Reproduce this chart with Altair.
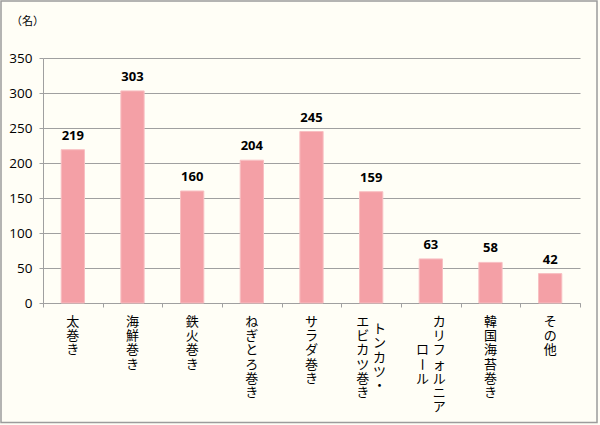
import altair as alt
import pandas as pd

categories = ["太巻き", "海鮮巻き", "鉄火巻き", "ねぎとろ巻き", "サラダ巻き",
              "トンカツ・エビカツ巻き", "カリフォルニアロール", "韓国海苔巻き", "その他"]
label_lines = [["太巻き"], ["海鮮巻き"], ["鉄火巻き"], ["ねぎとろ巻き"], ["サラダ巻き"],
               ["トンカツ・", "エビカツ巻き"], ["カリフォルニア", "ロール"], ["韓国海苔巻き"], ["その他"]]
values = [219, 303, 160, 204, 245, 159, 63, 58, 42]
y_ticks = [0, 50, 100, 150, 200, 250, 300, 350]
unit_label = "（名）"

W, H = 537, 245
GRAY = "#A0A0A0"
JP = "Noto Sans CJK JP"
NUM = "Open Sans"

df = pd.DataFrame({"cat": categories, "value": values})

# one row per character of the vertical (tategaki) labels
rows = []
for i, lines in enumerate(label_lines):
    m = len(lines)
    longest = max(len(s) for s in lines)
    for j, line in enumerate(lines):
        off = (longest - len(line)) / 2
        col = (m - 1) / 2 - j  # first line is rightmost
        for k, ch in enumerate(line):
            rows.append({"idx": i, "col": col, "row": k + off, "ch": ch,
                         "angle": 90 if ch == "ー" else 0})
chars = pd.DataFrame(rows)

x_enc = alt.X("cat:N", sort=categories,
              scale=alt.Scale(paddingInner=0, paddingOuter=0),
              axis=alt.Axis(labels=False, title=None, tickBand="extent", tickSize=4,
                            domainColor=GRAY, tickColor=GRAY, grid=False))
y_enc = alt.Y("value:Q", scale=alt.Scale(domain=[0, 350], nice=False),
              axis=alt.Axis(values=y_ticks, title=unit_label, titleAngle=0,
                            titleX=-16, titleY=-37, titleAlign="center",
                            titleBaseline="middle", titleFont=JP, titleFontSize=11,
                            titleFontWeight="normal", titleColor="#000",
                            labelFont=NUM, labelFontSize=13.5, labelColor="#000",
                            labelPadding=7, tickSize=4, tickColor=GRAY,
                            labelOverlap=False,
                            domainColor=GRAY, gridColor=GRAY, grid=True))

bars = alt.Chart(df).mark_bar(width=alt.RelativeBandSize(0.39), color="#F4A0A6",
                              stroke="#F8BFC2", strokeWidth=1).encode(x=x_enc, y=y_enc)
vals = alt.Chart(df).mark_text(dy=-10, baseline="alphabetic", fontWeight="bold",
                               fontSize=13, font=NUM, color="#000").encode(
    x=x_enc, y=y_enc, text="value:Q")

base = alt.layer(bars, vals)

char_layer = alt.Chart(chars).transform_calculate(
    xpos="datum.idx + 0.5 + datum.col * 0.28"
).mark_text(font=JP, fontSize=13, baseline="middle", align="center", color="#000").encode(
    x=alt.X("xpos:Q", scale=alt.Scale(domain=[0, 9], nice=False, zero=False), axis=None),
    y=alt.Y("row:Q", scale=alt.Scale(domain=[0, 7], range=[H + 19, H + 19 + 7 * 14.2]),
            axis=None),
    text="ch:N",
    angle=alt.Angle("angle:Q", scale=None),
)

frame = alt.Chart(alt.Data(values=[{}])).mark_rect(
    fill=None, stroke="#9C9C9C", strokeWidth=1.5).encode(
    x=alt.value(-42), x2=alt.value(W + 17), y=alt.value(-57), y2=alt.value(H + 119.5))

chart = alt.layer(frame, base, char_layer).resolve_scale(
    x="independent", y="independent"
).properties(
    width=W, height=H,
    autosize=alt.AutoSizeParams(type="none"),
    padding={"left": 43, "top": 58, "right": 20, "bottom": 122},
    background="#FFFEF6",
).configure_view(stroke=None)

chart.save("out.html", embed_options={"renderer": "svg", "actions": False})
